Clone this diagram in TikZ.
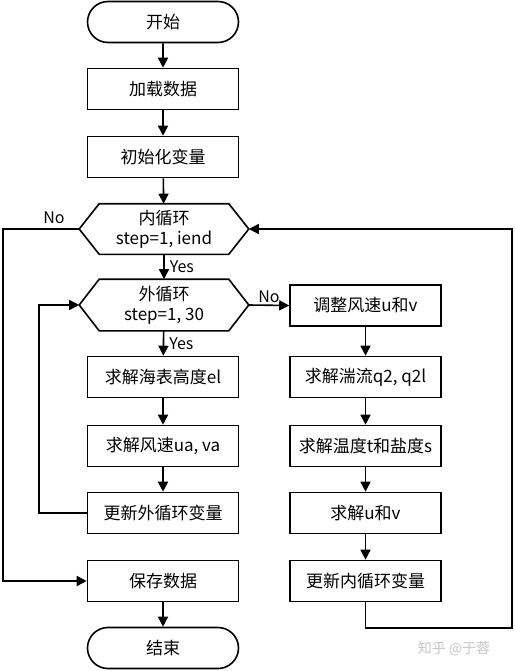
\documentclass[tikz,border=0pt]{standalone}
\usepackage{fontspec}
\setmainfont{Noto Sans CJK SC}
\usetikzlibrary{arrows.meta,shapes.misc}
\begin{document}
\begin{tikzpicture}[x=1pt,y=-1pt,>={Triangle[length=10pt,width=10pt]},line width=1.6pt,
	box/.style={draw,minimum width=151pt,minimum height=41pt,inner sep=0pt,font=\fontsize{17}{20}\selectfont},
	term/.style={box,rounded rectangle},
	hexa/.style={minimum width=168pt,minimum height=49pt,inner sep=0pt,align=center,font=\fontsize{17}{20}\selectfont},
	lbl/.style={font=\fontsize{16}{19}\selectfont,inner sep=1pt}]
		\useasboundingbox (0,0) rectangle (514,671);
		% left column
		\node[term] (start) at (163,22) {开始};
		\node[box] (load) at (163,89) {加载数据};
		\node[box] (init) at (163,157) {初始化变量};
		\node[hexa] (inloop) at (164,229) {内循环\\step=1, iend};
		\node[hexa,minimum height=50pt] (outloop) at (164,305) {外循环\\step=1, 30};
		\node[box] (el) at (163,377) {求解海表高度el};
		\node[box] (uava) at (163,446) {求解风速ua, va};
		\node[box] (updout) at (163,513) {更新外循环变量};
		\node[box] (save) at (163,581) {保存数据};
		\node[term] (stop) at (163,648) {结束};
		% right column
		\node[box] (adjust) at (365.5,305.5) {调整风速u和v};
		\node[box] (turb) at (365.5,377) {求解湍流q2, q2l};
		\node[box] (temp) at (365.5,446) {求解温度t和盐度s};
		\node[box] (uv) at (365.5,513) {求解u和v};
		\node[box] (updin) at (365.5,581) {更新内循环变量};
		\foreach \n in {inloop,outloop}{\draw (\n.west) -- ([xshift=20pt]\n.north west) -- ([xshift=-20pt]\n.north east) -- (\n.east) -- ([xshift=-20pt]\n.south east) -- ([xshift=20pt]\n.south west) -- cycle;}
		\coordinate (lc) at (3,229);\coordinate (rc) at (512,628);
		\draw[->] (start) -- (load);\draw[->] (load) -- (init);\draw[->] (init) -- (inloop);
		\draw[->] (inloop) -- (outloop) node[lbl,midway,right,xshift=4pt] (yes1) {Yes};
		\draw[->] (outloop) -- (el) node[lbl,midway,right,xshift=4pt] (yes2) {Yes};
		\draw[->] (el) -- (uava);\draw[->] (uava) -- (updout);\draw[->] (save) -- (stop);
		\draw[->] (updout.west) -- ([xshift=-48pt]updout.west) |- (outloop.west);
		\draw[->] (inloop.west) -- (lc) node[lbl,pos=0.33,above,yshift=3pt] (no1) {No} |- (save.west);
		\draw[->] (outloop.east) -- (adjust.west) node[lbl,midway,above,yshift=1pt] (no2) {No};
		\draw[->] (adjust) -- (turb);\draw[->] (turb) -- (temp);\draw[->] (temp) -- (uv);\draw[->] (uv) -- (updin);
		\draw[->] (updin.south) |- (rc) |- (inloop.east);
		\node[text=gray!45,font=\fontsize{14}{16}\selectfont] (mark) at (454,649) {知乎 @于蓉};
	\end{tikzpicture}
\end{document}
